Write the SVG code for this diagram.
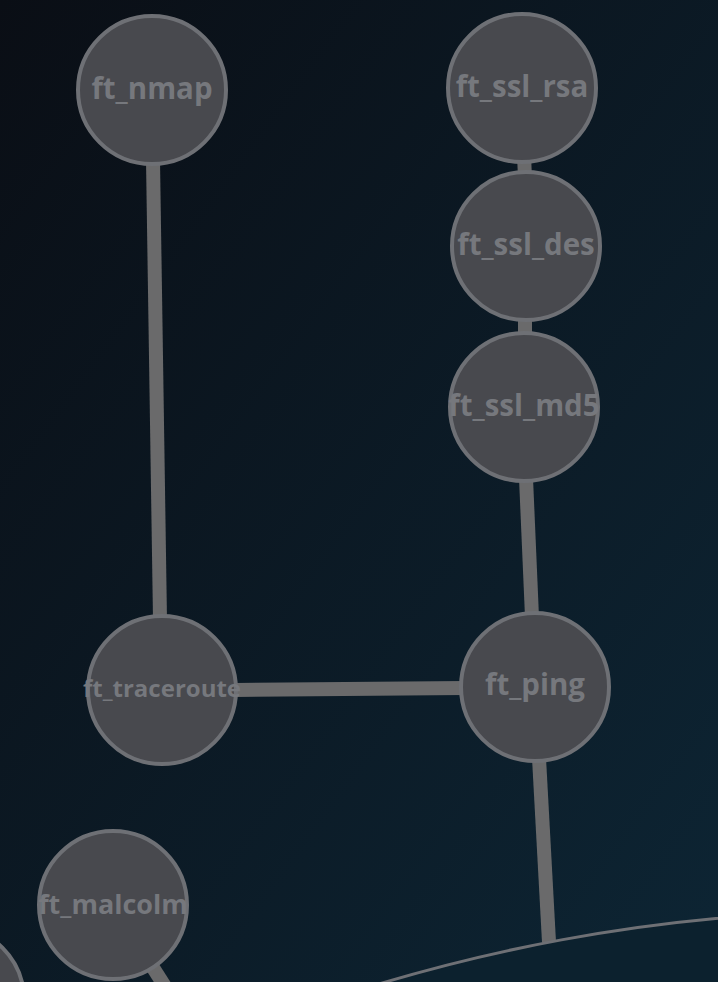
<svg xmlns="http://www.w3.org/2000/svg" width="718" height="982" viewBox="0 0 718 982">
<defs>
<linearGradient id="bg" x1="0" y1="0" x2="1" y2="1">
<stop offset="0" stop-color="#0a0e15"/>
<stop offset="1" stop-color="#0d2534"/>
</linearGradient>
<style>
.edge{stroke:#6a6a6b;stroke-width:14;fill:none}
.node circle{fill:#48494e;stroke:#6e7075;stroke-width:4}
.node text{fill:#76787d;font-family:"Open Sans","Noto Sans",sans-serif;font-weight:700;font-size:29.5px;text-anchor:middle}
</style>
</defs>
<rect width="718" height="982" fill="url(#bg)"/>
<g id="connectors">
<line class="edge" x1="153" y1="160" x2="160" y2="620"/>
<line class="edge" x1="235" y1="690" x2="465" y2="688"/>
<line class="edge" x1="524" y1="155" x2="525" y2="178"/>
<line class="edge" x1="525" y1="315" x2="525" y2="338"/>
<line class="edge" x1="526" y1="478" x2="532" y2="617"/>
<line class="edge" x1="539" y1="758" x2="549" y2="942"/>
<line class="edge" x1="113" y1="905" x2="180" y2="1010"/>
</g>
<g id="root" class="node">
<circle cx="876" cy="2640" r="1729" style="fill:#0c212e;stroke-width:3"/>
</g>
<g id="ft_offscreen" class="node">
<circle cx="-50" cy="1000" r="74"/>
</g>
<g id="ft_nmap" class="node">
<circle cx="152" cy="90" r="74"/>
<text x="152" y="99">ft_nmap</text>
</g>
<g id="ft_ssl_rsa" class="node">
<circle cx="522" cy="88" r="74"/>
<text x="522" y="97">ft_ssl_rsa</text>
</g>
<g id="ft_ssl_des" class="node">
<circle cx="526" cy="246" r="74"/>
<text x="526" y="255">ft_ssl_des</text>
</g>
<g id="ft_ssl_md5" class="node">
<circle cx="524" cy="407" r="74"/>
<text x="524" y="416">ft_ssl_md5</text>
</g>
<g id="ft_traceroute" class="node">
<circle cx="162" cy="690" r="74"/>
<text x="162" y="697" style="font-size:24px">ft_traceroute</text>
</g>
<g id="ft_ping" class="node">
<circle cx="535" cy="687" r="74"/>
<text x="535" y="695">ft_ping</text>
</g>
<g id="ft_malcolm" class="node">
<circle cx="113" cy="905" r="74"/>
<text x="113" y="914" style="font-size:27px">ft_malcolm</text>
</g>
</svg>
